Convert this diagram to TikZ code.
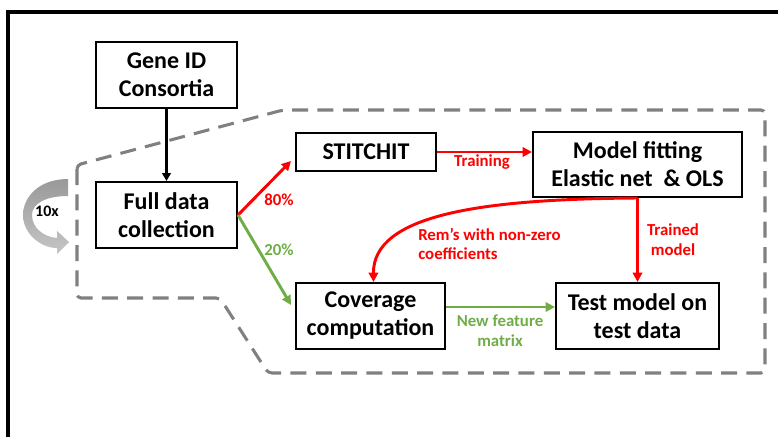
\documentclass[tikz,border=0pt]{standalone}
\usepackage{fontspec}
\setmainfont{Carlito}
\usetikzlibrary{arrows.meta,calc}
\definecolor{myred}{HTML}{FF0000}
\definecolor{mygreen}{HTML}{70AD47}
\definecolor{dashgray}{HTML}{808080}
\begin{document}
\begin{tikzpicture}[x=0.75pt,y=-0.75pt,
  box/.style={draw=black,line width=1.5pt,inner sep=0pt,align=center,
    font=\bfseries\fontsize{18}{21}\selectfont},
  lbl/.style={inner sep=0pt,align=center,font=\bfseries\fontsize{12.6}{14.8}\selectfont},
  arr/.style={line width=2.2pt,-{Triangle[length=7pt,width=7pt]}},
  blackarr/.style={line width=1.6pt,-{Triangle[length=6pt,width=6.5pt]}}]
\useasboundingbox (0,0) rectangle (778,437);
% frame
\draw[line width=2.3pt] (8,437) -- (8,12) -- (778,12);
% dashed region
\draw[dashgray,line width=2.3pt,dash pattern=on 12pt off 7pt,rounded corners=3pt]
  (77,165) -- (77,298) -- (220,298) -- (268,373) -- (765,373) -- (765,110) -- (283,110) -- cycle;
% nodes
\node[box,minimum width=105.75pt,minimum height=49.5pt] (gene) at (166.5,75) {Gene ID\\Consortia};
\node[box,minimum width=105.75pt,minimum height=49.5pt] (full) at (166.5,215) {Full data\\collection};
\node[box,minimum width=105pt,minimum height=28.5pt] (stitch) at (366,152) {STITCHIT};
\node[box,minimum width=156.75pt,minimum height=48.75pt] (model) at (637.5,164.5) {Model fitting\\Elastic net \ \& OLS};
\node[box,minimum width=111.75pt,minimum height=49.5pt] (cov) at (370.5,316) {Coverage\\computation};
\node[box,minimum width=122.25pt,minimum height=49.5pt] (test) at (637.5,316) {Test model on\\test data};
% 10x arrow
\shade[top color=gray!80,bottom color=gray!45]
  (68,179) .. controls (38,179) and (23,198) .. (23,215)
  .. controls (23,233) and (40,248) .. (57,248) -- (57,254) -- (69,242) -- (57,231) -- (57,238)
  .. controls (44,237) and (32,228) .. (32,215)
  .. controls (32,204) and (45,196) .. (68,196) -- cycle;
\node[lbl,font=\bfseries\fontsize{12}{14}\selectfont] (ten) at (47,211) {10x};
% connectors
\draw[blackarr] (gene.south) -- (full.north);
\coordinate (a80) at ($(stitch.south west)+(-4,-11)$);
\coordinate (a20) at ($(cov.west)+(-4,-11)$);
\draw[arr,myred] (full.east) -- (a80);
\draw[arr,mygreen] (full.east) -- (a20);
\draw[arr,myred] (stitch.east) -- (stitch.east -| model.west);
\draw[arr,myred] (model.south) -- (test.north);
\coordinate (cvtop) at ($(cov.north)+(3,0)$);
\draw[arr,myred] (model.south) .. controls (480,199) and (373,215) .. (cvtop);
\coordinate (nf) at ($(cov.east)+(0,-9)$);
\draw[arr,mygreen] (nf) -- (nf -| test.west);
% labels
\node[lbl,myred] (l80) at (279,200) {80\%};
\node[lbl,mygreen] (l20) at (279,250) {20\%};
\node[lbl,myred] (ltr) at (482,162) {Training};
\node[lbl,myred] (ltm) at (673,240) {Trained\\model};
\node[lbl,myred,align=left,anchor=west] (lrem) at (418,244) {Rem’s with non-zero\\coefficients};
\node[lbl,mygreen] (lnf) at (500,331) {New feature\\matrix};
\end{tikzpicture}
\end{document}
